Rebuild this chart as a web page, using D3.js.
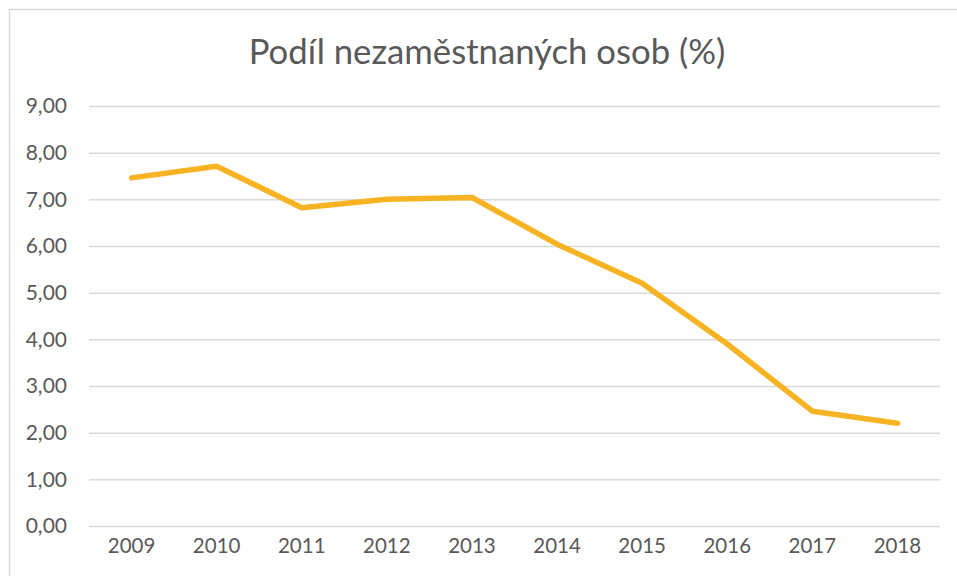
<!DOCTYPE html>
<html>
<head>
<meta charset="utf-8">
<script src="https://cdn.jsdelivr.net/npm/d3@7"></script>
<style>
  html, body { margin: 0; padding: 0; background: #fff; overflow: hidden; }
</style>
</head>
<body>
<script>
// data
const title = "Podíl nezaměstnaných osob (%)";
const years = ["2009", "2010", "2011", "2012", "2013", "2014", "2015", "2016", "2017", "2018"];
const unemployment = [7.46, 7.71, 6.82, 7.00, 7.04, 6.04, 5.20, 3.90, 2.46, 2.20];
const yTicks = [0, 1, 2, 3, 4, 5, 6, 7, 8, 9];

const width = 957, height = 576;
const marginLeft = 89, marginRight = 17, marginTop = 106, marginBottom = 50;
const fontFam = "Lato, 'Open Sans', sans-serif";

const svg = d3.select("body").append("svg")
    .attr("width", width)
    .attr("height", height)
    .style("display", "block");

// chart frame (runs off the right and bottom edges)
svg.append("rect")
    .attr("x", 9.5)
    .attr("y", 9.5)
    .attr("width", 1000)
    .attr("height", 1000)
    .attr("fill", "#fff")
    .attr("stroke", "#d9d9d9")
    .attr("stroke-width", 1.5);

const x = d3.scaleBand(years, [marginLeft, width - marginRight]);
const y = d3.scaleLinear([0, 9], [height - marginBottom, marginTop]);

const fmt = v => d3.format(".2f")(v).replace(".", ",");

// y grid + labels
svg.append("g")
    .attr("transform", `translate(${marginLeft},0)`)
    .call(d3.axisLeft(y).tickValues(yTicks).tickFormat(fmt).tickSize(0).tickPadding(22))
    .call(g => g.select(".domain").remove())
    .call(g => g.selectAll(".tick line").clone()
        .attr("x2", width - marginLeft - marginRight)
        .attr("stroke", "#d9d9d9")
        .attr("stroke-width", 1.5))
    .call(g => g.selectAll(".tick text")
        .attr("fill", "#595959")
        .style("font-family", fontFam)
        .style("font-size", "21px"));

// x labels
svg.append("g")
    .attr("transform", `translate(0,${height - marginBottom})`)
    .call(d3.axisBottom(x).tickSize(0).tickPadding(12))
    .call(g => g.select(".domain").remove())
    .call(g => g.selectAll(".tick text")
        .attr("fill", "#595959")
        .style("font-family", fontFam)
        .style("font-size", "20.5px"));

// line
const line = d3.line()
    .x((d, i) => x(years[i]) + x.bandwidth() / 2)
    .y(d => y(d));

svg.append("path")
    .datum(unemployment)
    .attr("d", line)
    .attr("fill", "none")
    .attr("stroke", "#f8b323")
    .attr("stroke-width", 5.5)
    .attr("stroke-linejoin", "round")
    .attr("stroke-linecap", "round");

// title
svg.append("text")
    .attr("x", 487)
    .attr("y", 64)
    .attr("text-anchor", "middle")
    .attr("fill", "#595959")
    .style("font-family", fontFam)
    .style("font-size", "34.7px")
    .text(title);
</script>
</body>
</html>
